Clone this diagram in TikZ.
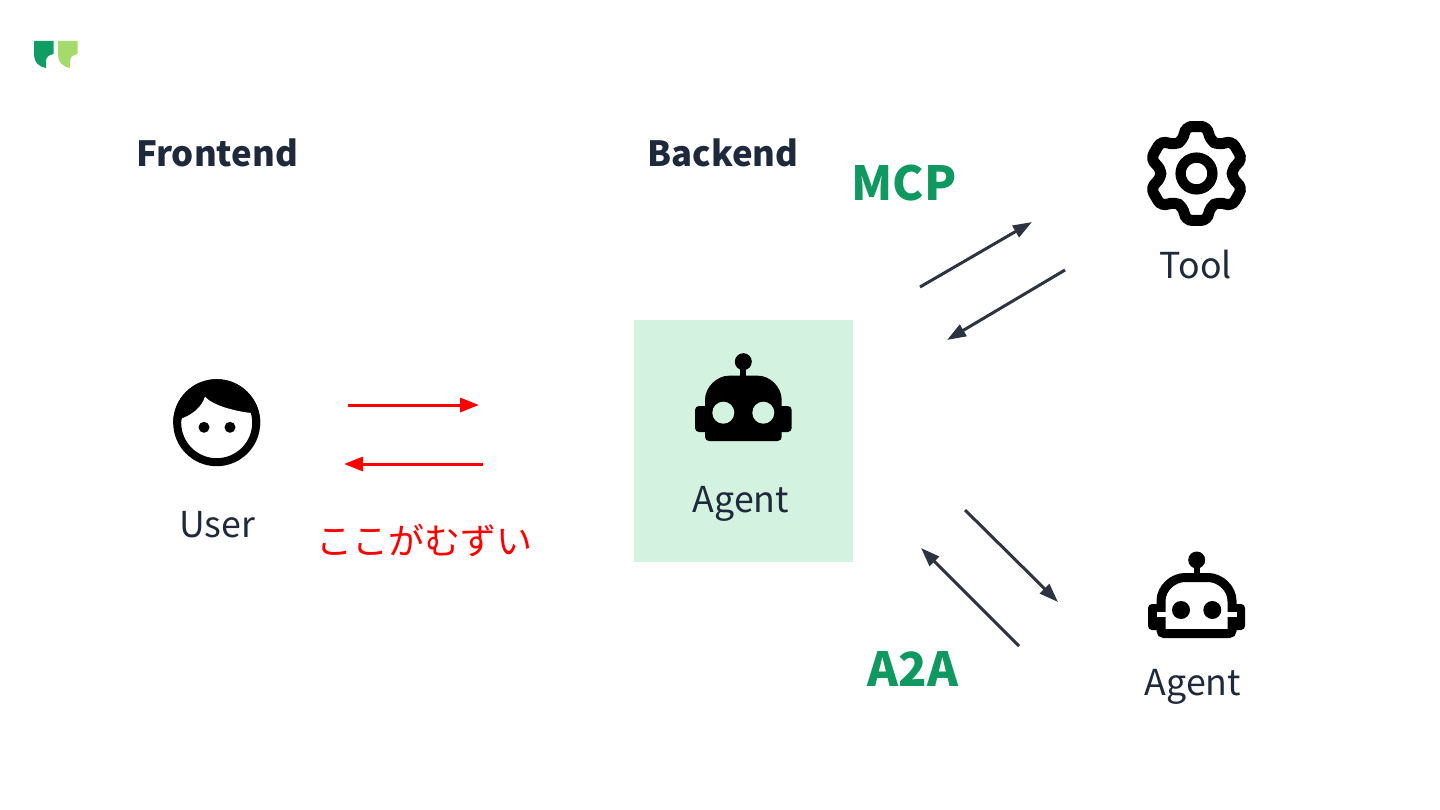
\documentclass[tikz,border=0pt]{standalone}
\usepackage{fontspec}
\setmainfont{Noto Sans CJK JP}
\usetikzlibrary{arrows.meta}
\definecolor{BoxGreen}{RGB}{211, 242, 224}
\definecolor{LabelGreen}{RGB}{15, 153, 96}
\definecolor{LogoDark}{RGB}{15, 157, 99}
\definecolor{LogoLight}{RGB}{165, 219, 107}
\definecolor{InkDark}{RGB}{30, 41, 59}
\definecolor{ArrowDark}{RGB}{45, 51, 64}
\definecolor{ArrowRed}{RGB}{255, 0, 0}
\tikzset{
  heading/.style={anchor=base, text=InkDark, font=\fontsize{34.7}{40}\selectfont\bfseries},
  protocol/.style={anchor=base, text=LabelGreen, font=\fontsize{47}{52}\selectfont\bfseries},
  caption/.style={anchor=base, text=InkDark, font=\fontsize{35.7}{40}\selectfont},
  redarrow/.style={-{Triangle[length=19pt, width=14pt]}, line width=3pt, ArrowRed},
  darkarrow/.style={-{Triangle[length=19pt, width=13pt]}, line width=3pt, ArrowDark},
}

\begin{document}
\begin{tikzpicture}[x=1pt, y=-1pt]
  \useasboundingbox (0, 0) rectangle (1440, 810);

  % Logo
  \fill[LogoDark] (34, 41) -- (53.5, 41) -- (53.5, 54) .. controls (48, 55) and (46, 58) .. (46, 61) -- (46, 68) .. controls (39, 67) and (34, 62) .. (34, 55) -- cycle;
  \fill[LogoLight] (58, 41) -- (77.5, 41) -- (77.5, 54) .. controls (72, 55) and (70, 58) .. (70, 61) -- (70, 68) .. controls (63, 67) and (58, 62) .. (58, 55) -- cycle;

  % Agent box
  \fill[BoxGreen] (634, 320) rectangle (853, 562);

  % Headings
  \node[heading] (frontend) at (217, 167) {Frontend};
  \node[heading] (backend) at (723, 167) {Backend};
  \node[protocol] (mcp) at (904, 200.5) {MCP};
  \node[protocol] (a2a) at (913, 686) {A2A};

  % Captions
  \node[caption] (user) at (217, 537) {User};
  \node[caption] (agent) at (741, 512) {Agent};
  \node[caption] (tool) at (1196, 279) {Tool};
  \node[caption] (remote) at (1193, 695.5) {Agent};
  \node[anchor=base, text=ArrowRed, font=\fontsize{36}{40}\selectfont] (hard) at (424.5, 554) {ここがむずい};

  % User icon
  \begin{scope}
    \clip (216.7, 422.7) circle (43.5pt);
    \fill[black] (170, 370) rectangle (265, 425);
    \fill[white] (181.7, 418.5) .. controls (194, 414) and (202, 406) .. (205, 396.7) .. controls (212, 405) and (235, 412) .. (256.7, 413.5) -- (262, 470) -- (170, 470) -- cycle;
  \end{scope}
  \draw[line width=8pt, black] (216.7, 422.7) circle (39.5pt);
  \fill[black] (204, 427.3) circle (5.5pt);
  \fill[black] (230, 427.3) circle (5.5pt);

  % Backend agent icon
  \fill[black] (743.3, 361.7) circle (8.5pt);
  \fill[black] (740.3, 365) rectangle (746.3, 380);
  \fill[black, rounded corners=4pt] (695, 406) rectangle (791.7, 432);
  \fill[black, rounded corners=4pt] (705, 441) -- (705, 404) .. controls (705, 387) and (717, 375.7) .. (733, 375.7) -- (754, 375.7) .. controls (770, 375.7) and (781.7, 387) .. (781.7, 404) -- (781.7, 441) -- cycle;
  \fill[BoxGreen] (723.3, 412.7) circle (11pt);
  \fill[BoxGreen] (763.3, 412.7) circle (11pt);

  % Tool icon
  \begin{scope}[shift={(1196.5, 173.5)}]
    \draw[line width=11pt, black, rounded corners=7pt] (0, -47)
      \foreach \k in {0, ..., 5} {
        -- ({103.5+60*\k}:48.3pt)
        -- ({111+60*\k}:36pt)
        -- ({129+60*\k}:36pt)
        -- ({136.5+60*\k}:48.3pt)
      } -- cycle;
    \draw[line width=10.3pt, black] (0, 0) circle (15.9pt);
  \end{scope}

  % Remote agent icon
  \fill[black] (1196.7, 560) circle (8.5pt);
  \fill[black] (1193.7, 563) rectangle (1199.7, 578);
  \fill[black, rounded corners=4pt] (1148, 604) rectangle (1245, 630);
  \fill[white, draw=black, line width=9pt, rounded corners=3pt] (1161, 633.5) -- (1161, 604) .. controls (1161, 588) and (1173, 577.5) .. (1188, 577.5) -- (1205, 577.5) .. controls (1220, 577.5) and (1232, 588) .. (1232, 604) -- (1232, 633.5) -- cycle;
  \fill[white] (1157, 612) rectangle (1168, 617);
  \fill[white] (1225, 612) rectangle (1236.5, 617);
  \fill[black] (1181, 610) circle (9pt);
  \fill[black] (1212.3, 610) circle (9pt);

  % Arrow ends
  \coordinate (userOut) at (348, 405);
  \coordinate (userOutEnd) at (479, 405);
  \coordinate (userIn) at (483, 464);
  \coordinate (userInEnd) at (344, 464);
  \coordinate (mcpOut) at (920, 287);
  \coordinate (mcpOutEnd) at (1032, 222);
  \coordinate (mcpIn) at (1065, 270);
  \coordinate (mcpInEnd) at (947, 340);
  \coordinate (a2aOut) at (965, 510);
  \coordinate (a2aOutEnd) at (1058, 602);
  \coordinate (a2aIn) at (1019, 646);
  \coordinate (a2aInEnd) at (921, 548);

  % Arrows
  \draw[redarrow] (userOut) -- (userOutEnd);
  \draw[redarrow] (userIn) -- (userInEnd);
  \draw[darkarrow] (mcpOut) -- (mcpOutEnd);
  \draw[darkarrow] (mcpIn) -- (mcpInEnd);
  \draw[darkarrow] (a2aOut) -- (a2aOutEnd);
  \draw[darkarrow] (a2aIn) -- (a2aInEnd);
\end{tikzpicture}
\end{document}
